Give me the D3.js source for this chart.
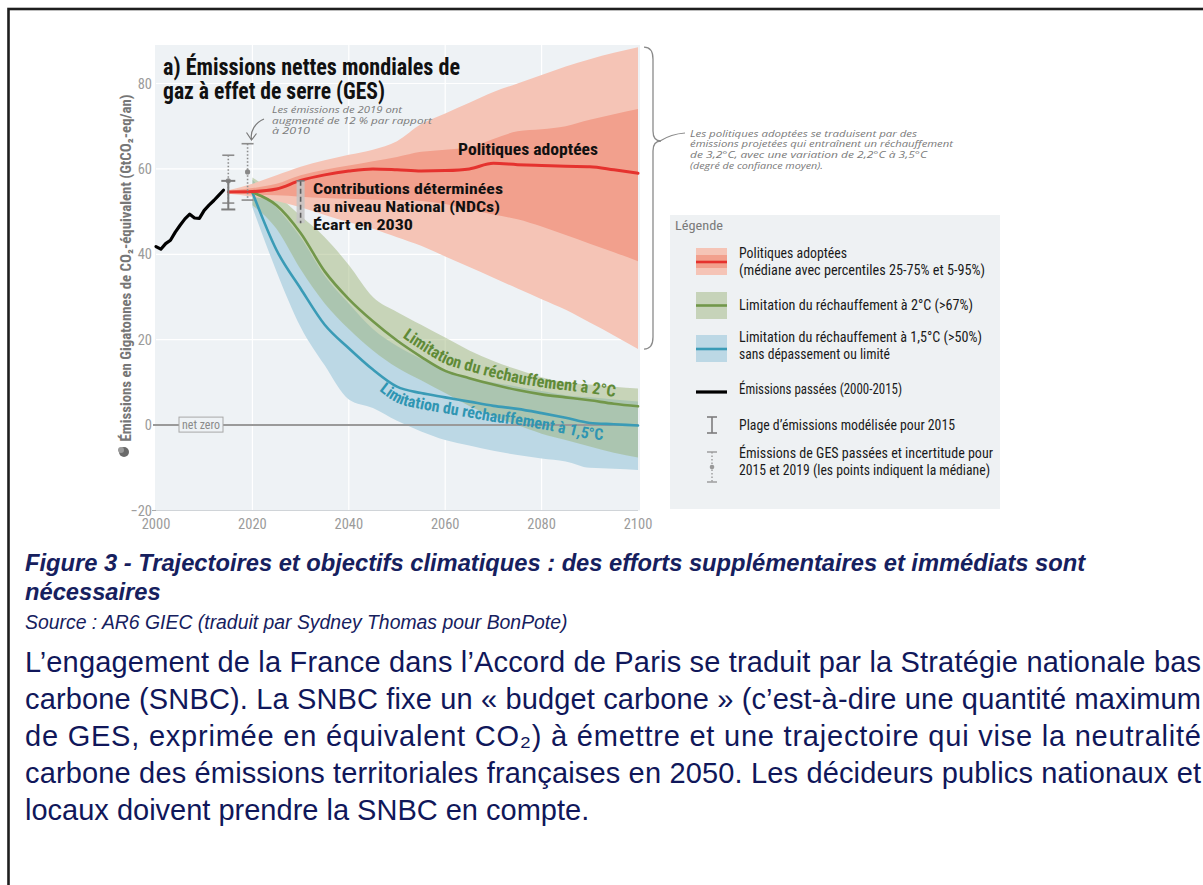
<!DOCTYPE html>
<html><head><meta charset="utf-8">
<script src="https://cdn.jsdelivr.net/npm/d3@7"></script>
<style>html,body{margin:0;padding:0;background:#fff;overflow:hidden}</style>
</head><body>
<svg id="c" width="1203" height="885" xmlns="http://www.w3.org/2000/svg"></svg>
<script>
// ---------- DATA ----------
const histYears = [2000,2001,2002,2003,2004,2005,2006,2007,2008,2009,2010,2011,2012,2013,2014];
const histValues = [41.8,41.2,42.5,43.3,45.2,46.8,48.3,49.4,48.5,48.4,50.3,51.5,52.6,53.8,55.0];

const redYears = [2015,2020,2025,2030,2035,2040,2045,2050,2055,2060,2065,2070,2075,2080,2085,2090,2095,2100];
const redMedian = [54.6,54.7,55.3,57.3,58.6,59.5,60.0,59.8,59.5,59.6,60.0,61.3,61.0,60.8,60.6,60.5,59.8,59.0];
const redP25 = [54.4,54.0,53.8,53.5,53.2,53.0,52.8,52.7,52.5,51.8,50.5,49.3,48.2,46.5,44.5,42.5,40.5,38.4];
const redP75 = [54.8,55.5,56.5,58.5,59.8,60.8,61.8,62.8,64.0,64.5,65.0,67.0,68.8,69.3,70.0,71.5,72.8,74.0];
const redP5  = [54.2,53.5,52.5,51.0,49.2,47.5,46.0,44.0,42.0,39.5,37.0,34.5,32.0,29.5,27.0,24.0,21.0,17.8];
const redP95 = [55.0,56.5,58.5,60.5,62.0,63.3,64.5,66.5,70.5,73.0,75.5,78.0,80.0,82.0,84.0,85.7,87.2,88.5];

const projYears = [2020,2025,2030,2035,2040,2045,2050,2055,2060,2065,2070,2075,2080,2085,2090,2095,2100];
const green2Median = [54.5,51.5,45.0,36.0,29.5,24.3,19.8,16.0,12.7,11.0,9.5,8.2,7.2,6.5,5.8,5.0,4.4];
const green2Upper  = [58.0,54.0,49.0,44.0,37.5,30.0,26.5,23.5,20.5,17.5,15.0,13.0,11.2,10.0,9.5,9.0,8.6];
const green2Lower  = [51.5,46.0,36.5,28.5,22.5,17.5,13.5,10.5,7.5,4.5,2.0,0.0,-2.0,-3.5,-5.0,-6.5,-7.6];
const blue15Median = [54.5,41.0,32.0,23.5,18.0,13.0,9.0,7.5,6.5,5.5,4.5,3.8,2.8,1.7,0.5,0.2,-0.1];
const blue15Upper  = [57.5,51.0,44.0,35.0,28.5,22.5,18.5,15.5,13.0,11.0,10.0,9.0,8.0,7.0,6.5,6.0,5.5];
const blue15Lower  = [51.0,36.0,23.0,14.0,6.0,4.0,1.0,-1.5,-3.5,-4.8,-6.0,-7.0,-7.8,-8.5,-10.0,-10.2,-10.5];

const errYears  = [2015, 2019];
const errLow    = [52.0, 52.7];
const errMedian = [57.2, 59.3];
const errHigh   = [63.2, 65.9];
const modelYear = 2015;
const modelRange = [50.5, 57.2];
const ndcYear = 2030;
const ndcRange = [47.3, 57.2];

const xTicks = [2000,2020,2040,2060,2080,2100];
const yTicks = [-20,0,20,40,60,80];
const yGrid = [20,40,60,80];
const xGrid = [2020,2040,2060,2080];

// ---------- SETUP ----------
const svg = d3.select('#c');
const NARROW = '"Liberation Sans Narrow","Arial Narrow","Roboto Condensed","Liberation Sans",sans-serif';
const SANS = '"Liberation Sans",Arial,sans-serif';
const HAND = '"Open Sans","DejaVu Sans",sans-serif';

const x = d3.scaleLinear().domain([2000,2100]).range([156,638]);
const y = d3.scaleLinear().domain([-20,80]).range([510.5,83.5]);

const C = {
  panel:'#eef2f5', redOuter:'#f5c4b6', redInner:'#f2a08d', red:'#e5322e',
  green:'rgba(150,176,110,0.45)', greenLine:'#72974a', blue:'#bcd8e5', blueLine:'#3a9bb6',
  grey:'#8c8c8c', tick:'#9b9b9b'
};

function txt(g, px, py, s, o={}) {
  const t = g.append('text').attr('x',px).attr('y',py)
    .attr('font-family', o.family||NARROW).attr('font-size', o.size||13)
    .attr('fill', o.fill||'#222').attr('font-weight', o.weight||'normal')
    .attr('font-style', o.style||'normal').attr('text-anchor', o.anchor||'start')
    .text(s);
  if (o.len) t.attr('textLength', o.len).attr('lengthAdjust', o.adjust||'spacingAndGlyphs');
  return t;
}

// page border
svg.append('rect').attr('x',8.5).attr('y',9).attr('width',1300).attr('height',1000)
  .attr('fill','none').attr('stroke','#1e1e1e').attr('stroke-width',2.6);

const g = svg.append('g');

// panel
g.append('rect').attr('x',x(2000)-1).attr('y',45).attr('width',x(2100)-x(2000)+3).attr('height',y(-20)-45)
  .attr('fill',C.panel);

// grid
g.selectAll('.hg').data(yGrid).join('line').attr('x1',x(2000)).attr('x2',x(2100))
  .attr('y1',d=>y(d)).attr('y2',d=>y(d)).attr('stroke','#ffffff').attr('stroke-width',1.2);
g.selectAll('.vg').data(xGrid).join('line').attr('y1',45).attr('y2',y(-20))
  .attr('x1',d=>x(d)).attr('x2',d=>x(d)).attr('stroke','#ffffff').attr('stroke-width',1.2);
g.append('line').attr('x1',x(2000)).attr('x2',x(2100)).attr('y1',y(-20)).attr('y2',y(-20))
  .attr('stroke','#d0d4d8').attr('stroke-width',1);

// bands
function band(years, lo, hi, fill) {
  const a = d3.area().x((d,i)=>x(years[i])).y0((d,i)=>y(lo[i])).y1((d,i)=>y(hi[i])).curve(d3.curveMonotoneX);
  g.append('path').attr('d', a(years)).attr('fill', fill);
}
band(projYears, blue15Lower, blue15Upper, C.blue);
band(projYears, green2Lower, green2Upper, C.green);
band(redYears, redP5, redP95, C.redOuter);
band(redYears, redP25, redP75, C.redInner);

// zero line
g.append('line').attr('x1',x(2000)-3).attr('x2',x(2100)).attr('y1',y(0)).attr('y2',y(0))
  .attr('stroke','#9a9a9a').attr('stroke-width',2);
g.append('rect').attr('x',179).attr('y',y(0)-8).attr('width',44).attr('height',15)
  .attr('fill',C.panel).attr('stroke','#a8a8a8').attr('stroke-width',1);
txt(g, 201, y(0)+4, 'net zero', {size:12.5, fill:'#8a8a8a', anchor:'middle', len:38});

// lines
function ln(years, vals, color, w) {
  const l = d3.line().x((d,i)=>x(years[i])).y((d,i)=>y(vals[i])).curve(d3.curveMonotoneX);
  g.append('path').attr('d', l(vals)).attr('fill','none').attr('stroke',color)
    .attr('stroke-width',w).attr('stroke-linejoin','round').attr('stroke-linecap','round');
}
ln(projYears, blue15Median, C.blueLine, 2.6);
ln(projYears, green2Median, C.greenLine, 2.6);
ln(redYears, redMedian, C.red, 3);
const hl = d3.line().x((d,i)=>x(histYears[i])).y((d,i)=>y(histValues[i]));
g.append('path').attr('d', hl(histValues)).attr('fill','none').attr('stroke','#000')
  .attr('stroke-width',3.2).attr('stroke-linejoin','round').attr('stroke-linecap','round');

// error bars
errYears.forEach((yr,i)=>{
  const cx = x(yr);
  g.append('line').attr('x1',cx).attr('x2',cx).attr('y1',y(errHigh[i])).attr('y2',y(errLow[i]))
    .attr('stroke',C.grey).attr('stroke-width',1.6).attr('stroke-dasharray','1.5,2');
  [errHigh[i], errLow[i]].forEach(v=>g.append('line').attr('x1',cx-6).attr('x2',cx+6)
    .attr('y1',y(v)).attr('y2',y(v)).attr('stroke',C.grey).attr('stroke-width',1.6));
  g.append('circle').attr('cx',cx).attr('cy',y(errMedian[i])).attr('r',2.6).attr('fill','#888');
});
{
  const cx = x(modelYear);
  g.append('line').attr('x1',cx).attr('x2',cx).attr('y1',y(modelRange[1])).attr('y2',y(modelRange[0]))
    .attr('stroke','#7d7d7d').attr('stroke-width',2);
  modelRange.forEach(v=>g.append('line').attr('x1',cx-7).attr('x2',cx+7).attr('y1',y(v)).attr('y2',y(v))
    .attr('stroke','#7d7d7d').attr('stroke-width',2));
}
{
  const cx = x(ndcYear);
  g.append('rect').attr('x',cx-4).attr('y',y(ndcRange[1])).attr('width',8)
    .attr('height',y(ndcRange[0])-y(ndcRange[1])).attr('fill','#c4c4c4').attr('opacity',0.85);
  g.append('line').attr('x1',cx).attr('x2',cx).attr('y1',y(ndcRange[1])).attr('y2',y(ndcRange[0]))
    .attr('stroke','#5e5e5e').attr('stroke-width',1.6).attr('stroke-dasharray','5,3');
  g.append('line').attr('x1',cx-4).attr('x2',cx+4).attr('y1',y(ndcRange[1])).attr('y2',y(ndcRange[1]))
    .attr('stroke','#777').attr('stroke-width',1.5);
}

// axes labels
g.selectAll('.yt').data(yTicks).join('text').attr('x',152).attr('y',d=>y(d)+5)
  .attr('text-anchor','end').attr('font-family',NARROW).attr('font-size',14.5).attr('fill',C.tick)
  .text(d=>d<0?'\u2212'+Math.abs(d):d);
g.selectAll('.xt').data(xTicks).join('text').attr('x',d=>x(d)).attr('y',528.5)
  .attr('text-anchor','middle').attr('font-family',NARROW).attr('font-size',14.5).attr('fill',C.tick)
  .text(d=>d);
g.append('line').attr('x1',x(2000)-4).attr('x2',x(2000)).attr('y1',y(-20)).attr('y2',y(-20)).attr('stroke','#aaa');

// y-axis title
txt(g, 0, 0, 'Émissions en Gigatonnes de CO₂-équivalent (GtCO₂-eq/an)',
  {size:14, weight:'bold', fill:'#767676', anchor:'middle', len:347})
  .attr('transform','translate(131,268) rotate(-90)');
g.append('circle').attr('cx',124).attr('cy',452).attr('r',5).attr('fill','#6a6a6a');
g.append('circle').attr('cx',121).attr('cy',450).attr('r',3).attr('fill','#9a9a9a');

// chart title
txt(g, 163, 75, 'a) Émissions nettes mondiales de', {size:23, weight:'bold', fill:'#111', len:297});
txt(g, 163, 99, 'gaz à effet de serre (GES)', {size:23, weight:'bold', fill:'#111', len:222});

// 2019 note
const handO = {family:HAND, style:'italic', size:9.5, fill:'#7a7a7a'};
txt(g, 272, 113, 'Les émissions de 2019 ont', {...handO, len:130});
txt(g, 272, 123.5, 'augmenté de 12 % par rapport', {...handO, len:160});
txt(g, 272, 134, 'à 2010', {...handO, len:38});
g.append('path').attr('d','M264,119 C255,123 250,131 251.5,139.5').attr('fill','none')
  .attr('stroke','#7a7a7a').attr('stroke-width',1.2);
g.append('path').attr('d','M246.5,132.5 L251.5,140 L256.5,133.5').attr('fill','none')
  .attr('stroke','#7a7a7a').attr('stroke-width',1.2);

// bold annotations
txt(g, 458, 155, 'Politiques adoptées', {size:16, weight:'bold', fill:'#111', len:140});
txt(g, 313, 194, 'Contributions déterminées', {size:15.5, weight:'bold', fill:'#111', len:190});
txt(g, 313, 212, 'au niveau National (NDCs)', {size:15.5, weight:'bold', fill:'#111', len:187});
txt(g, 313, 229.5, 'Écart en 2030', {size:15.5, weight:'bold', fill:'#111', len:100});

// curved labels
function curvedLabel(years, vals, offset, x0, x1, text, color, size, id) {
  const l = d3.line().x((d,i)=>x(years[i])).y((d,i)=>y(vals[i])+offset).curve(d3.curveMonotoneX);
  const p = svg.append('path').attr('id',id).attr('d', l(vals)).attr('fill','none').attr('stroke','none');
  const node = p.node(); const L = node.getTotalLength();
  const lenAt = px => { let lo=0, hi=L; for (let k=0;k<40;k++){ const m=(lo+hi)/2; if (node.getPointAtLength(m).x<px) lo=m; else hi=m; } return lo; };
  const s = lenAt(x0), e = lenAt(x1);
  svg.append('text').attr('font-family',NARROW).attr('font-size',size).attr('font-weight','bold')
    .attr('fill',color)
    .append('textPath').attr('href','#'+id).attr('startOffset',s)
    .attr('textLength',e-s).attr('lengthAdjust','spacingAndGlyphs').text(text);
}
curvedLabel(projYears, green2Median, -7, 402, 615, 'Limitation du réchauffement à 2°C', '#5f8a37', 16.5, 'pg');
curvedLabel(projYears, blue15Median, 16, 379, 603, 'Limitation du réchauffement à 1,5°C', '#2f95b2', 16, 'pb');

// brace + note
{
  const top = y(redP95[redP95.length-1]), bot = y(redP5[redP5.length-1]), mid = 141, bx = 653;
  const d = `M644,${top} C650,${top} ${bx},${top+4} ${bx},${top+12} L${bx},${mid-10} C${bx},${mid-3} ${bx+3},${mid} ${bx+8},${mid} C${bx+3},${mid} ${bx},${mid+3} ${bx},${mid+10} L${bx},${bot-12} C${bx},${bot-4} 650,${bot} 644,${bot}`;
  g.append('path').attr('d',d).attr('fill','none').attr('stroke','#8a8a8a').attr('stroke-width',1.3);
  g.append('path').attr('d',`M${bx+7},${mid} Q${bx+18},${mid-7} ${bx+32},${mid-8}`).attr('fill','none')
    .attr('stroke','#8a8a8a').attr('stroke-width',1.2);
  txt(g, 690, 136.7, 'Les politiques adoptées se traduisent par des', {...handO, len:227});
  txt(g, 690, 147.3, 'émissions projetées qui entraînent un réchauffement', {...handO, len:263});
  txt(g, 690, 158, 'de 3,2°C, avec une variation de 2,2°C à 3,5°C', {...handO, len:237});
  txt(g, 690, 168.7, '(degré de confiance moyen).', {...handO, len:133});
}

// legend
{
  const L = g.append('g');
  L.append('rect').attr('x',670).attr('y',215).attr('width',330).attr('height',294).attr('fill','#eef1f3');
  txt(L, 675, 230, 'Légende', {size:13, fill:'#7a7a7a', len:48});
  const sx = 696, sw = 31;
  L.append('rect').attr('x',sx).attr('y',248).attr('width',sw).attr('height',27).attr('fill',C.redOuter);
  L.append('rect').attr('x',sx).attr('y',255).attr('width',sw).attr('height',13).attr('fill',C.redInner);
  L.append('line').attr('x1',sx).attr('x2',sx+sw).attr('y1',262).attr('y2',262).attr('stroke',C.red).attr('stroke-width',2.6);
  L.append('rect').attr('x',sx).attr('y',292).attr('width',sw).attr('height',27).attr('fill','#c6d3b9');
  L.append('line').attr('x1',sx).attr('x2',sx+sw).attr('y1',305.5).attr('y2',305.5).attr('stroke',C.greenLine).attr('stroke-width',2.6);
  L.append('rect').attr('x',sx).attr('y',335).attr('width',sw).attr('height',27).attr('fill',C.blue);
  L.append('line').attr('x1',sx).attr('x2',sx+sw).attr('y1',349).attr('y2',349).attr('stroke',C.blueLine).attr('stroke-width',2.6);
  L.append('line').attr('x1',sx).attr('x2',sx+sw).attr('y1',392).attr('y2',392).attr('stroke','#000').attr('stroke-width',3.2);
  const ix = 712;
  L.append('line').attr('x1',ix).attr('x2',ix).attr('y1',417).attr('y2',433).attr('stroke','#7d7d7d').attr('stroke-width',1.6);
  [417,433].forEach(v=>L.append('line').attr('x1',ix-5).attr('x2',ix+5).attr('y1',v).attr('y2',v).attr('stroke','#7d7d7d').attr('stroke-width',1.6));
  L.append('line').attr('x1',ix).attr('x2',ix).attr('y1',452).attr('y2',482).attr('stroke','#999').attr('stroke-width',1.4).attr('stroke-dasharray','1.5,2');
  [452,482].forEach(v=>L.append('line').attr('x1',ix-5).attr('x2',ix+5).attr('y1',v).attr('y2',v).attr('stroke','#999').attr('stroke-width',1.4));
  L.append('circle').attr('cx',ix).attr('cy',467).attr('r',2.3).attr('fill','#999');
  const o = {size:14, fill:'#1a1a1a'};
  txt(L, 739, 258, 'Politiques adoptées', {...o, len:108});
  txt(L, 739, 275, '(médiane avec percentiles 25-75% et 5-95%)', {...o, len:246});
  txt(L, 739, 310, 'Limitation du réchauffement à 2°C (>67%)', {...o, len:234});
  txt(L, 739, 342, 'Limitation du réchauffement à 1,5°C (>50%)', {...o, len:243});
  txt(L, 739, 359, 'sans dépassement ou limité', {...o, len:151});
  txt(L, 739, 394, 'Émissions passées (2000-2015)', {...o, len:163});
  txt(L, 739, 430, 'Plage d\u2019émissions modélisée pour 2015', {...o, len:216});
  txt(L, 739, 458, 'Émissions de GES passées et incertitude pour', {...o, len:254});
  txt(L, 739, 475, '2015 et 2019 (les points indiquent la médiane)', {...o, len:251});
}

// caption and body text
{
  const navy = '#16205e';
  const cap = {family:SANS, size:23.7, weight:'bold', style:'italic', fill:navy};
  txt(svg, 25, 571, 'Figure 3 - Trajectoires et objectifs climatiques : des efforts supplémentaires et immédiats sont', cap);
  txt(svg, 25, 600, 'nécessaires', cap);
  txt(svg, 25, 629, 'Source : AR6 GIEC (traduit par Sydney Thomas pour BonPote)', {family:SANS, size:19.4, style:'italic', fill:navy});
  const body = {family:SANS, size:29, fill:'#10175a'};
  const lines = [
    'L\u2019engagement de la France dans l\u2019Accord de Paris se traduit par la Stratégie nationale bas',
    'carbone (SNBC). La SNBC fixe un « budget carbone » (c\u2019est-à-dire une quantité maximum',
    'de GES, exprimée en équivalent CO₂) à émettre et une trajectoire qui vise la neutralité',
    'carbone des émissions territoriales françaises en 2050. Les décideurs publics nationaux et',
    'locaux doivent prendre la SNBC en compte.'
  ];
  lines.forEach((s,i)=>{
    const o = {...body};
    if (i<4) { o.len = 1176; o.adjust = 'spacing'; }
    txt(svg, 25, 672 + i*37, s, o);
  });
}
</script>
</body></html>
